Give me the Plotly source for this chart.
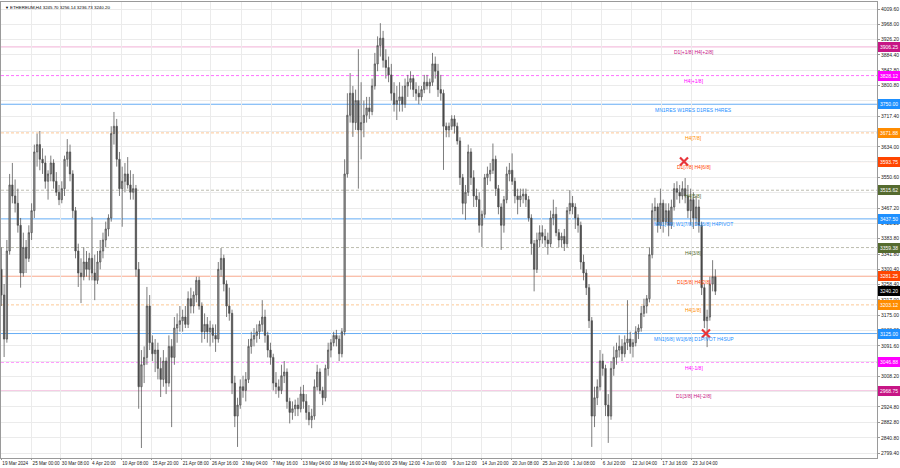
import plotly.graph_objects as go
import pandas as pd

# ---------------- data (12h candles) ----------------
candle_start = "2024-03-19 12:00"
first_open = 3300
highs = [3360, 3260, 3380, 3560, 3590, 3545, 3520, 3440, 3400, 3380,
         3420, 3480, 3640, 3670, 3677, 3630, 3610, 3570, 3610, 3600,
         3565, 3530, 3540, 3610, 3655, 3640, 3570, 3470, 3370, 3330,
         3360, 3350, 3345, 3443, 3340, 3350, 3380, 3400, 3430, 3450,
         3690, 3729, 3710, 3620, 3580, 3590, 3606, 3570, 3560, 3530,
         3320, 3080, 3090, 3252, 3230, 3120, 3110, 3100, 3060, 3080,
         3060, 3120, 3110, 3170, 3180, 3200, 3190, 3200, 3240, 3250,
         3240, 3280, 3280, 3210, 3180, 3170, 3160, 3150, 3150, 3320,
         3358, 3340, 3270, 3250, 3190, 3010, 2950, 3000, 3010, 3020,
         3110, 3130, 3140, 3150, 3160, 3216, 3190, 3130, 3100, 3070,
         3020, 3000, 3040, 3050, 3030, 2950, 2940, 2945, 2950, 2980,
         2985, 2960, 2930, 2920, 3000, 3040, 3030, 2980, 3040, 3100,
         3110, 3130, 3135, 3120, 3140, 3600, 3780, 3835, 3800, 3790,
         3900, 3810, 3760, 3770, 3770, 3820, 3890, 3935, 3971, 3950,
         3900, 3880, 3860, 3810, 3800, 3810, 3800, 3820, 3830, 3840,
         3830, 3810, 3800, 3800, 3830, 3830, 3820, 3890, 3880, 3860,
         3830, 3790, 3700, 3700, 3720, 3720, 3700, 3660, 3560, 3530,
         3640, 3630, 3570, 3520, 3510, 3460, 3560, 3580, 3590, 3643,
         3610, 3530, 3480, 3500, 3580, 3590, 3616, 3550, 3520, 3520,
         3520, 3520, 3500, 3450, 3380, 3400, 3420, 3420, 3410, 3400,
         3460, 3490, 3470, 3410, 3400, 3410, 3470, 3516, 3500, 3480,
         3450, 3430, 3340, 3300, 3260, 3170, 2980, 3000, 3080, 3070,
         3040, 2960, 3050, 3090, 3100, 3120, 3110, 3120, 3216, 3130,
         3110, 3145, 3150, 3200, 3220, 3230, 3360, 3480, 3495, 3480,
         3520, 3490, 3480, 3480, 3490, 3535, 3540, 3530, 3540, 3549,
         3530, 3520, 3510, 3500, 3490, 3430, 3260, 3190, 3280, 3325,
         3300]
lows = [3200, 3061, 3100, 3340, 3480, 3455, 3400, 3250, 3280, 3290,
        3320, 3380, 3440, 3580, 3570, 3560, 3520, 3490, 3540, 3520,
        3500, 3475, 3480, 3500, 3580, 3540, 3440, 3330, 3252, 3208,
        3270, 3280, 3270, 3270, 3216, 3260, 3300, 3330, 3360, 3390,
        3430, 3640, 3580, 3500, 3416, 3510, 3520, 3490, 3490, 3280,
        2920, 2813, 2990, 3040, 3080, 3050, 3020, 3000, 2952, 2980,
        2960, 2980, 2870, 3040, 3100, 3130, 3130, 3140, 3140, 3180,
        3180, 3210, 3190, 3100, 3110, 3100, 3090, 3100, 3075, 3100,
        3280, 3240, 3170, 3160, 2960, 2870, 2816, 2920, 2950, 2940,
        2990, 3070, 3090, 3100, 3110, 3130, 3100, 3060, 3040, 2970,
        2960, 2950, 2960, 2990, 2920, 2880, 2890, 2900, 2900, 2910,
        2920, 2890, 2875, 2867, 2890, 2970, 2960, 2930, 2940, 3010,
        3060, 3090, 3090, 3050, 3060, 3120, 3550, 3700, 3661, 3680,
        3520, 3600, 3660, 3700, 3710, 3720, 3790, 3840, 3880, 3850,
        3820, 3810, 3760, 3730, 3707, 3730, 3730, 3740, 3770, 3790,
        3770, 3760, 3750, 3760, 3780, 3790, 3780, 3800, 3820, 3770,
        3760, 3571, 3660, 3660, 3680, 3670, 3640, 3530, 3450, 3435,
        3500, 3530, 3470, 3470, 3400, 3361, 3440, 3530, 3540, 3560,
        3500, 3450, 3353, 3400, 3480, 3540, 3530, 3480, 3450, 3470,
        3480, 3470, 3430, 3340, 3240, 3290, 3360, 3370, 3360, 3340,
        3360, 3420, 3390, 3360, 3360, 3350, 3360, 3450, 3450, 3410,
        3400, 3300, 3270, 3230, 3140, 2816, 2870, 2930, 2970, 3010,
        2900, 2827, 2890, 3010, 3040, 3060, 3050, 3060, 3080, 3070,
        3060, 3090, 3110, 3130, 3170, 3180, 3210, 3330, 3430, 3400,
        3410, 3400, 3420, 3390, 3410, 3460, 3490, 3480, 3490, 3480,
        3440, 3420, 3410, 3420, 3400, 3230, 3140, 3088, 3160, 3240,
        3230]
closes = [3230, 3110, 3350, 3530, 3500, 3480, 3420, 3290, 3360, 3330,
          3400, 3460, 3620, 3640, 3600, 3590, 3540, 3560, 3590, 3540,
          3510, 3490, 3520, 3600, 3620, 3560, 3460, 3350, 3290, 3280,
          3320, 3300, 3330, 3290, 3270, 3320, 3350, 3380, 3410, 3440,
          3670, 3690, 3600, 3520, 3540, 3560, 3530, 3510, 3520, 3300,
          2980, 3040, 3060, 3200, 3100, 3070, 3080, 3030, 3000, 3050,
          2990, 3090, 3060, 3140, 3150, 3160, 3170, 3150, 3220, 3200,
          3230, 3270, 3200, 3130, 3150, 3130, 3140, 3120, 3110, 3300,
          3330, 3260, 3200, 3180, 2990, 2900, 2930, 2980, 2970, 3000,
          3090, 3110, 3120, 3130, 3150, 3170, 3120, 3080, 3060, 2990,
          2980, 2970, 3010, 3020, 2940, 2910, 2920, 2930, 2920, 2960,
          2940, 2910, 2890, 2900, 2980, 3020, 2970, 2950, 3030, 3080,
          3100, 3120, 3110, 3070, 3130, 3560, 3720, 3780, 3700, 3760,
          3680, 3700, 3720, 3740, 3730, 3800, 3860, 3910, 3930, 3870,
          3850, 3830, 3780, 3750, 3760, 3770, 3750, 3800, 3810, 3820,
          3790, 3780, 3770, 3790, 3810, 3800, 3810, 3860, 3840, 3790,
          3780, 3690, 3680, 3690, 3710, 3690, 3650, 3550, 3480, 3510,
          3620, 3550, 3500, 3490, 3420, 3450, 3550, 3560, 3570, 3600,
          3520, 3470, 3420, 3490, 3560, 3570, 3540, 3500, 3490, 3500,
          3505, 3490, 3440, 3370, 3300, 3380, 3400, 3390, 3380, 3370,
          3440, 3450, 3400, 3380, 3390, 3370, 3460, 3480, 3470, 3440,
          3420, 3320, 3290, 3250, 3160, 2900, 2950, 2980, 3050, 3030,
          2930, 2900, 3030, 3060, 3080, 3090, 3070, 3100, 3110, 3090,
          3100, 3130, 3140, 3180, 3200, 3220, 3340, 3460, 3470, 3420,
          3480, 3430, 3460, 3420, 3470, 3520, 3510, 3500, 3520, 3500,
          3460, 3490, 3440, 3470, 3420, 3250, 3160, 3170, 3260, 3280,
          3240.20]
opens = [first_open] + closes[:-1]
dates = pd.date_range(candle_start, periods=len(closes), freq="12h")

# Murrey-math style levels
level_prices = [3906.25, 3828.12, 3750.00, 3671.88, 3593.75, 3515.62, 3437.50,
                3359.38, 3281.25, 3203.12, 3125.00, 3046.88, 2968.75]
level_names = ["D1[+1/8] H4[+2/8]", "H4[+1/8]", "MN1RES W1RES D1RES H4RES",
               "H4[7/8]", "D1[7/8] H4[6/8]", "H4[5/8]",
               "MN1[7/8] W1[7/8] D1[6/8] H4PIVOT", "H4[3/8]", "D1[5/8] H4[2/8]",
               "H4[1/8]", "MN1[6/8] W1[6/8] D1PIVOT H4SUP", "H4[-1/8]",
               "D1[3/8] H4[-2/8]"]
level_value_text = ["3906.25", "3828.12", "3750.00", "3671.88", "3593.75", "3515.62",
                    "3437.50", "3359.38", "3281.25", "3203.12", "3125.00", "3046.88",
                    "2968.75"]
level_text_colors = ["#c71585", "#ff00ff", "#1e90ff", "#ff8c00", "#ff4500", "#556b2f",
                     "#1e90ff", "#556b2f", "#ff4500", "#ff8c00", "#1e90ff", "#ff00ff",
                     "#c71585"]
level_line_colors = ["#f1b0d6", "#ff70ff", "#66adf5", "#fcc896", "#f8a88c", "#bdbdb0",
                     "#66adf5", "#bdbdb0", "#f8a88c", "#fcc896", "#66adf5", "#ff70ff",
                     "#f1b0d6"]
level_dash = ["solid", "3px,2px", "solid", "3px,2px", "solid", "3px,2px", "solid",
              "3px,2px", "solid", "3px,2px", "solid", "3px,2px", "solid"]

bid_price = 3240.20
bid_text = "3240.20"

touch_times = ["2024-07-21 19:00", "2024-07-25 19:00"]
touch_prices = [3593.75, 3125.00]

x_tick_times = ["2024-03-19 12:00", "2024-03-25 00:00", "2024-03-30 08:00", "2024-04-04 20:00",
                "2024-04-10 08:00", "2024-04-15 20:00", "2024-04-21 08:00", "2024-04-26 16:00",
                "2024-05-02 04:00", "2024-05-07 16:00", "2024-05-13 04:00", "2024-05-18 16:00",
                "2024-05-24 00:00", "2024-05-29 12:00", "2024-06-04 00:00", "2024-06-09 12:00",
                "2024-06-14 20:00", "2024-06-20 08:00", "2024-06-25 20:00", "2024-07-01 08:00",
                "2024-07-06 20:00", "2024-07-12 04:00", "2024-07-17 16:00", "2024-07-23 04:00"]
x_tick_labels = ["19 Mar 2024", "25 Mar 00:00", "30 Mar 08:00", "4 Apr 20:00", "10 Apr 08:00",
                 "15 Apr 20:00", "21 Apr 08:00", "26 Apr 16:00", "2 May 04:00", "7 May 16:00",
                 "13 May 04:00", "18 May 16:00", "24 May 00:00", "29 May 12:00", "4 Jun 00:00",
                 "9 Jun 12:00", "14 Jun 20:00", "20 Jun 08:00", "25 Jun 20:00", "1 Jul 08:00",
                 "6 Jul 20:00", "12 Jul 04:00", "17 Jul 16:00", "23 Jul 04:00"]
y_tick_values = [4009.60, 3968.00, 3926.20, 3884.40, 3842.80, 3800.80, 3759.40, 3717.40,
                 3676.00, 3634.00, 3592.60, 3550.60, 3509.00, 3467.20, 3425.20, 3383.80,
                 3341.80, 3300.40, 3258.40, 3217.00, 3175.00, 3133.00, 3091.60, 3049.60,
                 3008.20, 2966.20, 2924.80, 2882.80, 2840.80, 2799.40]
y_tick_labels = ["%.2f" % v for v in y_tick_values]

title_text = "ETHEREUM,H4 3245.70 3256.14 3236.73 3240.20"

# ---------------- figure ----------------
FONT = "Liberation Sans"
fig = go.Figure()

for p, c, d in zip(level_prices, level_line_colors, level_dash):
    fig.add_shape(type="line", xref="paper", x0=0, x1=1, yref="y", y0=p, y1=p,
                  line=dict(color=c, width=1, dash=d), layer="below")

fig.add_trace(go.Candlestick(
    x=dates, open=opens, high=highs, low=lows, close=closes,
    increasing=dict(line=dict(color="#505050", width=0.75), fillcolor="#a0a0a0"),
    decreasing=dict(line=dict(color="#505050", width=0.75), fillcolor="#444444"),
    whiskerwidth=0, hoverinfo="skip", showlegend=False))

fig.add_trace(go.Scatter(
    x=touch_times, y=touch_prices, mode="markers",
    marker=dict(symbol="x-thin", size=8, line=dict(color="#e8343a", width=2.2)),
    hoverinfo="skip", showlegend=False))

annotations = []
for p, name, col in zip(level_prices, level_names, level_text_colors):
    annotations.append(dict(xref="paper", x=0.791, yref="y", y=p, text=name,
                            showarrow=False, xanchor="center", yanchor="top", yshift=-0.5,
                            font=dict(family=FONT, size=5, color=col)))
for p, t, col in zip(level_prices, level_value_text, level_text_colors):
    annotations.append(dict(xref="paper", x=1, yref="y", y=p, text=t, showarrow=False,
                            xanchor="left", yanchor="middle", xshift=1, bgcolor=col,
                            bordercolor=col, borderpad=1,
                            font=dict(family=FONT, size=5, color="white")))
annotations.append(dict(xref="paper", x=1, yref="y", y=bid_price, text=bid_text,
                        showarrow=False, xanchor="left", yanchor="middle", xshift=1,
                        bgcolor="#000000", bordercolor="#000000", borderpad=1,
                        font=dict(family=FONT, size=5, color="white")))
annotations.append(dict(xref="paper", x=0, yref="paper", y=1, text="▼", showarrow=False,
                        xanchor="left", yanchor="top", xshift=2, yshift=-1,
                        font=dict(family=FONT, size=4, color="#000")))
annotations.append(dict(xref="paper", x=0, yref="paper", y=1, text=title_text, showarrow=False,
                        xanchor="left", yanchor="top", xshift=7, yshift=-1,
                        font=dict(family=FONT, size=4.4, color="#000")))

fig.update_layout(
    width=900, height=468,
    margin=dict(l=1, r=23, t=2, b=10),
    paper_bgcolor="white", plot_bgcolor="white",
    showlegend=False, hovermode=False,
    font=dict(family=FONT, size=5, color="#222"),
    annotations=annotations,
    xaxis=dict(type="date", range=["2024-03-19 10:22", "2024-08-25 22:22"],
               tickmode="array", tickvals=x_tick_times, ticktext=x_tick_labels,
               tickangle=0, ticklabelposition="outside right", ticks="outside",
               ticklen=1, tickcolor="#999", showgrid=True, gridcolor="#ebebeb",
               gridwidth=1, showline=True, mirror=True, linecolor="#9a9a9a", linewidth=1,
               rangeslider=dict(visible=False), automargin=False, zeroline=False,
               tickfont=dict(family=FONT, size=4.6, color="#222")),
    yaxis=dict(side="right", range=[2785.77, 4028.68], tickmode="array",
               tickvals=y_tick_values, ticktext=y_tick_labels, ticks="outside",
               ticklen=2, tickcolor="#999", showgrid=True, gridcolor="#ebebeb",
               gridwidth=1, showline=True, mirror=True, linecolor="#9a9a9a",
               linewidth=1, automargin=False, zeroline=False,
               tickfont=dict(family=FONT, size=5, color="#222")),
)

fig.write_html("out.html", config={"displayModeBar": False},
               post_script="document.body.style.margin='0px';document.body.style.overflow='hidden';")
